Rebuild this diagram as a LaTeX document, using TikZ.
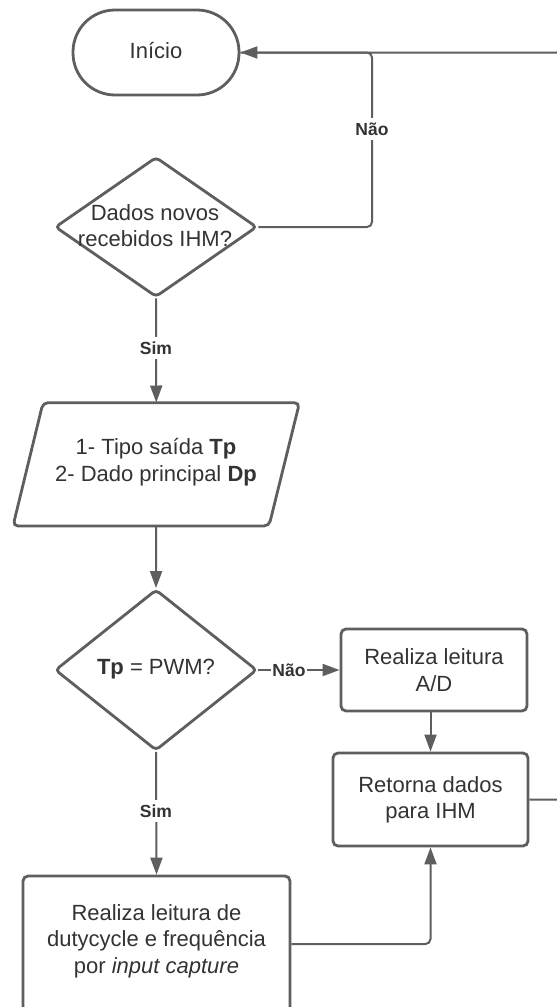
\documentclass[tikz,border=0pt]{standalone}
\usepackage{fontspec}
\setmainfont{Liberation Sans}
\usetikzlibrary{arrows.meta,shapes.geometric}
\definecolor{ln}{HTML}{5E5E5E}
\definecolor{tx}{HTML}{333333}
\begin{document}
\begin{tikzpicture}[x=1pt,y=-1pt,
 box/.style={draw=ln,line width=2.8pt,rounded corners=5pt,fill=white,inner sep=0pt},
 dia/.style={diamond,draw=ln,line width=2.8pt,rounded corners=4pt,fill=white,inner sep=0pt},
 conn/.style={draw=ln,line width=2pt,rounded corners=5pt},
 arr/.style={conn,-{Triangle[length=17pt,width=12pt]}},
 txt/.style={text=tx,font=\fontsize{22}{26.5}\selectfont,align=center},
 lbl/.style={fill=white,text=tx,font=\fontsize{17.5}{20}\selectfont\bfseries,inner xsep=1pt,inner ysep=5pt},
]
\useasboundingbox (0,0) rectangle (557,1007);
\clip (0,0) rectangle (557,1007);

% nodes
\node[box,rounded corners=42pt,minimum width=166pt,minimum height=85pt] (start) at (156,52.5) {};
\node[txt] (startt) at (156,51) {Início};

\node[dia,minimum width=202pt,minimum height=140pt] (d1) at (156,227) {};
\node[txt] (d1t) at (155,225.5) {Dados novos\\recebidos IHM?};

\node[inner sep=0pt,minimum width=286.5pt,minimum height=123.3pt] (p) at (156.25,464.35) {};
\draw[draw=ln,line width=2.8pt,rounded corners=5pt,fill=white]
  (156,402.7) -- (299.5,402.7) -- (269,526) -- (13,526) -- (43,402.7) -- cycle;
\node[txt] (pt) at (156,462) {1- Tipo saída \textbf{Tp}\\2- Dado principal \textbf{Dp}};

\node[dia,minimum width=202pt,minimum height=161pt] (d2) at (156,670) {};
\node[txt] (d2t) at (156,669) {\textbf{Tp} = PWM?};

\node[box,minimum width=186pt,minimum height=82pt] (ad) at (434,670) {};
\node[txt] (adt) at (434,670) {Realiza leitura\\A/D};

\node[box,minimum width=195pt,minimum height=93pt] (ret) at (430.5,799.5) {};
\node[txt] (rett) at (430.5,800) {Retorna dados\\para IHM};

\node[box,minimum width=267pt,minimum height=136pt] (bot) at (156.5,944) {};
\node[txt] (bott) at (156.5,941) {Realiza leitura de\\dutycycle e frequência\\por \textit{input capture}};

% connectors
\coordinate (j) at (372,52.5);
\coordinate (loopBot) at (600,799.5);
\coordinate (loopTop) at (600,52.5);

\draw[conn] (d1.east) -| (j) -- (start.east);
\draw[arr] (ret.east) -- (loopBot) -- (loopTop) -- (start.east);
\draw[arr] (d1.south) -- (p.north);
\draw[arr] (p.south) -- (d2.north);
\draw[arr] (d2.east) -- (ad.west);
\draw[arr] (d2.south) -- (bot.north);
\draw[arr] (ret.north |- ad.south) -- (ret.north);
\draw[arr] (bot.east) -| (ret.south);

% labels
\node[lbl] (l1) at (372,129) {Não};
\node[lbl] (l2) at (156,348) {Sim};
\node[lbl] (l3) at (289,670) {Não};
\node[lbl] (l4) at (156,811) {Sim};
\end{tikzpicture}
\end{document}
